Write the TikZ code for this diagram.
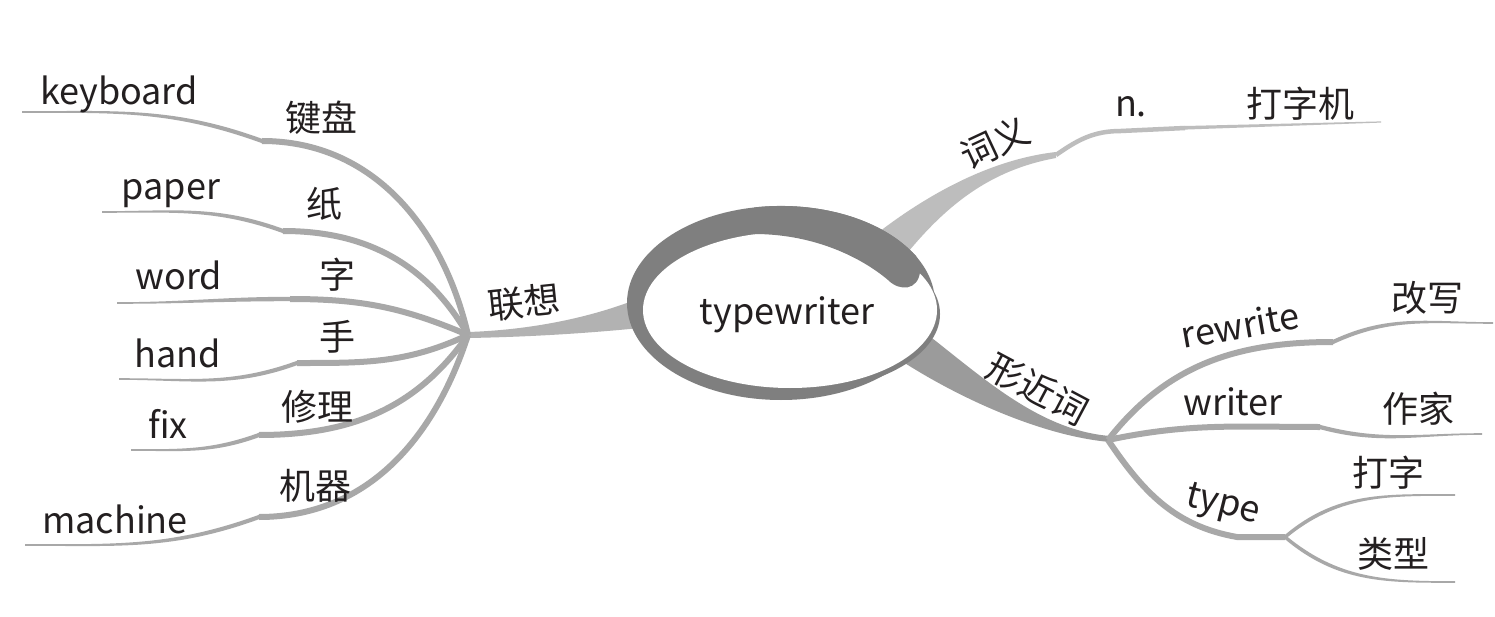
\documentclass[tikz,border=0pt]{standalone}
\usepackage{fontspec}
\setmainfont{Noto Sans CJK SC}
\usetikzlibrary{calc}
\definecolor{cBand}{HTML}{7F7F7F}
\definecolor{cXj}{HTML}{9B9B9B}
\definecolor{cLx}{HTML}{B2B2B2}
\definecolor{cYm}{HTML}{BDBDBD}
\definecolor{cTwig}{HTML}{A8A8A8}
\definecolor{cTxt}{HTML}{231F20}
\newcommand\tapertwig[6]{\fill[cTwig] ($(#1)+(0,#5)$) to[out=#3,in=#4] ($(#2)+(0,#6)$) -- ($(#2)-(0,#6)$) to[out=#4,in=#3] ($(#1)-(0,#5)$) -- cycle;}
\begin{document}
\begin{tikzpicture}[x=1pt,y=1pt,
  lbl/.style={inner sep=0pt, text=cTxt, font=\fontsize{36}{40}\selectfont},
  twigline/.style={draw=cTwig, line width=6pt},
  nline/.style={draw=cYm, line width=4.5pt}]
\useasboundingbox (0,0) rectangle (1495,-617);
\fill[white] (0,0) rectangle (1495,-617);
% coordinates
\coordinate (H1) at (468,-335);
\coordinate (kkb) at (262,-141); \coordinate (ekb) at (22,-112);
\coordinate (kpa) at (283,-231); \coordinate (epa) at (102,-212);
\coordinate (kwo) at (290,-299); \coordinate (ewo) at (117,-303);
\coordinate (kha) at (297,-363); \coordinate (eha) at (119,-379);
\coordinate (kfi) at (259,-435); \coordinate (efi) at (131,-450);
\coordinate (kma) at (259,-517); \coordinate (ema) at (25,-545);
\coordinate (H2) at (1108,-440);
\coordinate (kre) at (1333,-342); \coordinate (ere) at (1493,-323);
\coordinate (kwr) at (1320,-427); \coordinate (ewr) at (1482,-434);
\coordinate (kty) at (1237,-537); \coordinate (H3) at (1285,-537);
\coordinate (eda) at (1455,-495); \coordinate (elx) at (1455,-582);
\coordinate (Ktop) at (1056,-155);
\coordinate (Kn) at (1121,-131);
\coordinate (Kd) at (1185,-128);
\coordinate (etop) at (1381,-122);
% trunks
\fill[cYm] (875,-235) .. controls (920,-200) and (985,-160) .. ($(Ktop)+(0,3)$)
  -- ($(Ktop)-(0,3)$) .. controls (990,-170) and (945,-205) .. (900,-262) -- cycle;
\fill[cLx] (640,-298) .. controls (590,-318) and (530,-330) .. ($(H1)+(0,3)$)
  -- ($(H1)-(0,3)$) .. controls (530,-337) and (590,-333) .. (640,-328) -- cycle;
\fill[cXj] (915,-325) .. controls (975,-370) and (1035,-430) .. ($(H2)+(2,4)$)
  -- ($(H2)+(2,-2)$) .. controls (1040,-436) and (950,-395) .. (885,-350) -- cycle;
% top right
\draw[nline] (Ktop) to[out=35,in=180] (Kn) -- (Kd);
\fill[cYm] ($(Kd)+(0,2)$) -- ($(etop)+(0,0.6)$) -- ($(etop)-(0,0.6)$) -- ($(Kd)-(0,1.6)$) -- cycle;
% left twigs
\draw[twigline] (H1) to[out=103,in=0] (kkb);
\draw[twigline] (H1) to[out=120,in=0] (kpa);
\draw[twigline] (H1) to[out=157,in=0] (kwo);
\draw[twigline] (H1) to[out=205,in=0] (kha);
\draw[twigline] (H1) to[out=235,in=0] (kfi);
\draw[twigline] (H1) to[out=252,in=0] (kma);
\tapertwig{kkb}{ekb}{160}{0}{2.2}{0.8}
\tapertwig{kpa}{epa}{160}{0}{2.2}{0.8}
\tapertwig{kwo}{ewo}{180}{0}{2.2}{0.8}
\tapertwig{kha}{eha}{200}{0}{2.2}{0.8}
\tapertwig{kfi}{efi}{200}{0}{2.2}{0.8}
\tapertwig{kma}{ema}{200}{0}{2.2}{0.8}
% right twigs
\draw[twigline] (H2) to[out=52,in=180] (kre);
\draw[twigline] (H2) to[out=12,in=180] (kwr);
\draw[twigline] (H2) to[out=-56,in=170] (kty) -- (H3);
\tapertwig{kre}{ere}{25}{180}{2.2}{0.8}
\tapertwig{kwr}{ewr}{-15}{180}{2.2}{0.8}
\tapertwig{H3}{eda}{40}{180}{2.2}{0.8}
\tapertwig{H3}{elx}{-40}{180}{2.2}{0.8}
% central ellipse
\fill[cBand] (781,-303) ellipse [x radius=154, y radius=97];
\fill[cBand] (793,-314) ellipse [x radius=147, y radius=78];
\fill[white] (790,-310) ellipse [x radius=147, y radius=78];
\fill[cBand] (913.0,-253.0) arc[start angle=31, end angle=100, x radius=154, y radius=97]
  -- (754,-234) .. controls (815,-234) and (862,-258) .. (888,-280)
  .. controls (900,-292) and (918,-290) .. (920,-272)
  .. controls (921,-262) and (917,-256) .. (913.0,-253.0) -- cycle;
% labels
\node[lbl, anchor=base] (center) at (787,-324) {typewriter};
\node[lbl, anchor=base] (tkb) at (119,-105) {keyboard};
\node[lbl] (ckb) at (321,-118) {键盘};
\node[lbl, anchor=base] (tpa) at (171,-200) {paper};
\node[lbl] (cpa) at (324,-204) {纸};
\node[lbl, anchor=base] (two) at (179,-290) {word};
\node[lbl] (cwo) at (337,-275) {字};
\node[lbl, anchor=base] (tha) at (178,-367) {hand};
\node[lbl] (cha) at (337,-337) {手};
\node[lbl, anchor=base] (tfi) at (168,-438) {fix};
\node[lbl] (cfi) at (317,-407) {修理};
\node[lbl, anchor=base] (tma) at (115,-533) {machine};
\node[lbl] (cma) at (315,-486) {机器};
\node[lbl, rotate=6] (clx) at (524,-302) {联想};
\node[lbl, rotate=25] (cym) at (995,-143) {词义};
\node[lbl, anchor=base] (tn) at (1131,-117) {n.};
\node[lbl] (cdzj) at (1300,-104) {打字机};
\node[lbl, rotate=-28] (cxj) at (1038,-389) {形近词};
\node[lbl, rotate=10] (tre) at (1240,-325) {rewrite};
\node[lbl] (cgx) at (1427,-298) {改写};
\node[lbl, anchor=base] (twr) at (1233,-415) {writer};
\node[lbl] (czj) at (1418,-409) {作家};
\node[lbl, rotate=-14] (tty) at (1223,-506) {type};
\node[lbl] (cdz) at (1388,-473) {打字};
\node[lbl] (clei) at (1393,-554) {类型};
\end{tikzpicture}
\end{document}
